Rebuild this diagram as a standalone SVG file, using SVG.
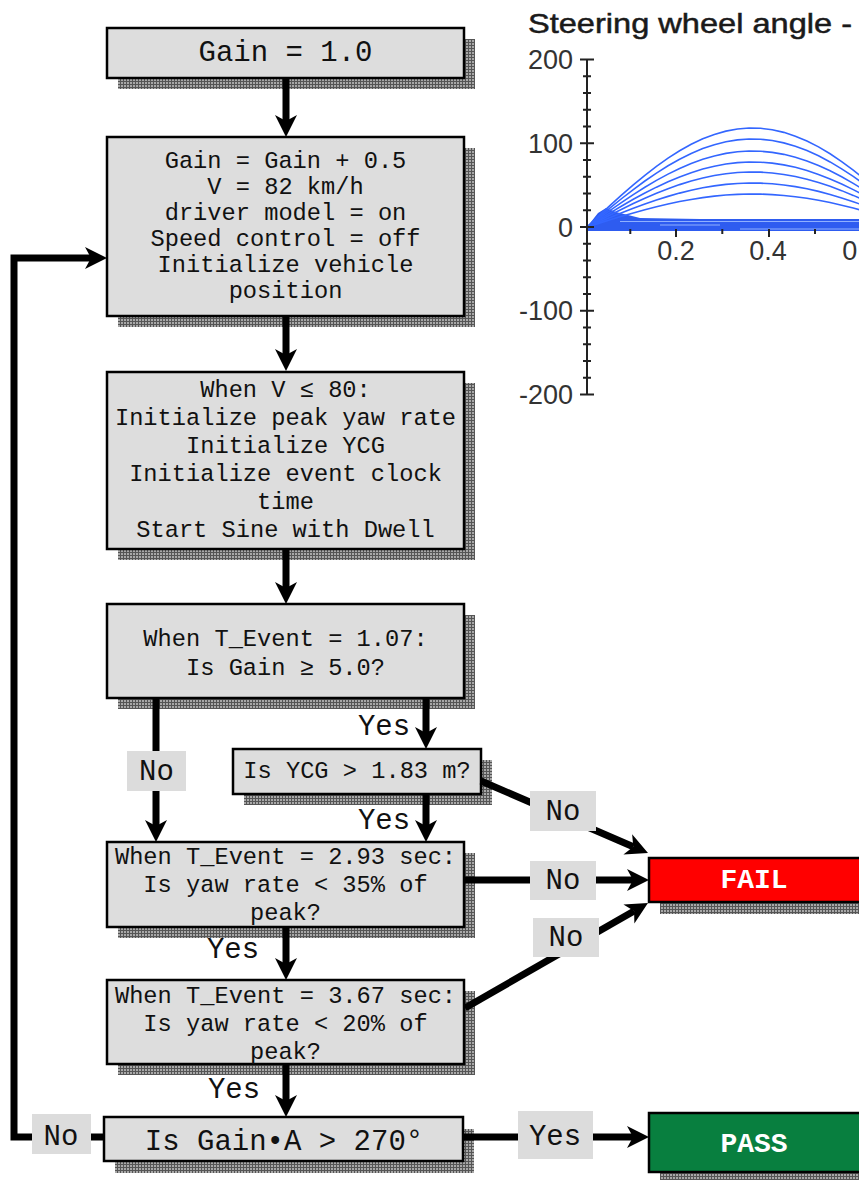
<svg xmlns="http://www.w3.org/2000/svg" width="859" height="1180" viewBox="0 0 859 1180">
<style>
.box{fill:#dddddd;stroke:#000;stroke-width:2.5}
.sh{fill:url(#chk)}
.t{font-family:"Liberation Mono","Courier New",monospace;font-size:23.7px;fill:#111;text-anchor:middle}
.tb{font-family:"Liberation Mono","Courier New",monospace;font-size:29px;fill:#111;text-anchor:middle}
.lbl{font-family:"Liberation Mono","Courier New",monospace;font-size:29px;fill:#111;text-anchor:middle}
.lbg{fill:#dcdcdc}
.res{font-family:"Liberation Mono","Courier New",monospace;font-size:28px;font-weight:bold;fill:#fff;text-anchor:middle}
.con{fill:none;stroke:#000;stroke-width:7;marker-end:url(#ah)}
.ax{font-family:"Liberation Sans",Arial,sans-serif;font-size:27px;fill:#333}
.crv{fill:none;stroke:#3366ff;stroke-width:1.6}
</style>
<defs>
<pattern id="chk" width="3" height="3" patternUnits="userSpaceOnUse">
<rect width="3" height="3" fill="#a8a8a8"/>
<rect width="3" height="1" fill="#555"/>
<rect width="1" height="3" fill="#555"/>
</pattern>
<marker id="ah" viewBox="-8 -12 26 24" refX="0" refY="0" markerWidth="26" markerHeight="24" markerUnits="userSpaceOnUse" orient="auto">
<path d="M16,0 L-6,-11 L0,0 L-6,11 Z" fill="#000"/>
</marker>
</defs>
<rect width="859" height="1180" fill="#fff"/>

<g id="chart">
<text x="528" y="33" font-family="Liberation Sans, Arial, sans-serif" font-size="28" fill="#1a1a1a" stroke="#1a1a1a" stroke-width="0.5" textLength="324" lengthAdjust="spacingAndGlyphs">Steering wheel angle -</text>
<polygon points="587,227 598,213 606,208 616,212 640,218 700,219 859,219 859,231 587,231" fill="#2e5cf0"/>
<g stroke="#8fb0ff" stroke-width="1">
<line x1="620" y1="221.5" x2="859" y2="221.5"/>
<line x1="660" y1="225" x2="720" y2="225"/>
<line x1="740" y1="229" x2="859" y2="229"/>
</g>
<g class="crv">
<path d="M587,227 L598.58,216.14 L610.15,205.41 L621.73,194.93 L633.3,184.85 L644.88,175.27 L656.45,166.32 L668.03,158.11 L679.6,150.72 L691.18,144.26 L702.75,138.79 L714.33,134.4 L725.9,131.11 L737.48,129 L749.05,128.05 L760.63,128.31 L772.2,129.75 L783.78,132.36 L795.35,136.14 L806.93,141 L818.5,146.91 L830.08,153.78 L841.65,161.53 L853.23,170.09 L864.8,179.3"/>
<path d="M587,227 L598.58,217.35 L610.15,207.81 L621.73,198.5 L633.3,189.53 L644.88,181.02 L656.45,173.06 L668.03,165.76 L679.6,159.2 L691.18,153.45 L702.75,148.59 L714.33,144.68 L725.9,141.76 L737.48,139.89 L749.05,139.04 L760.63,139.27 L772.2,140.56 L783.78,142.87 L795.35,146.23 L806.93,150.55 L818.5,155.81 L830.08,161.92 L841.65,168.81 L853.23,176.42 L864.8,184.6"/>
<path d="M587,227 L598.58,218.66 L610.15,210.42 L621.73,202.38 L633.3,194.64 L644.88,187.29 L656.45,180.42 L668.03,174.11 L679.6,168.44 L691.18,163.48 L702.75,159.28 L714.33,155.91 L725.9,153.39 L737.48,151.77 L749.05,151.04 L760.63,151.24 L772.2,152.35 L783.78,154.34 L795.35,157.25 L806.93,160.98 L818.5,165.52 L830.08,170.79 L841.65,176.74 L853.23,183.32 L864.8,190.38"/>
<path d="M587,227 L598.58,219.87 L610.15,212.82 L621.73,205.95 L633.3,199.32 L644.88,193.04 L656.45,187.16 L668.03,181.77 L679.6,176.92 L691.18,172.67 L702.75,169.08 L714.33,166.2 L725.9,164.04 L737.48,162.66 L749.05,162.03 L760.63,162.2 L772.2,163.15 L783.78,164.86 L795.35,167.34 L806.93,170.53 L818.5,174.41 L830.08,178.93 L841.65,184.02 L853.23,189.64 L864.8,195.68"/>
<path d="M587,227 L598.58,220.97 L610.15,215 L621.73,209.19 L633.3,203.58 L644.88,198.26 L656.45,193.29 L668.03,188.73 L679.6,184.62 L691.18,181.03 L702.75,177.99 L714.33,175.55 L725.9,173.73 L737.48,172.56 L749.05,172.03 L760.63,172.17 L772.2,172.97 L783.78,174.42 L795.35,176.52 L806.93,179.22 L818.5,182.5 L830.08,186.32 L841.65,190.63 L853.23,195.39 L864.8,200.5"/>
<path d="M587,227 L598.58,222.17 L610.15,217.4 L621.73,212.75 L633.3,208.26 L644.88,204.01 L656.45,200.03 L668.03,196.38 L679.6,193.1 L691.18,190.22 L702.75,187.8 L714.33,185.84 L725.9,184.38 L737.48,183.44 L749.05,183.02 L760.63,183.14 L772.2,183.78 L783.78,184.94 L795.35,186.62 L806.93,188.78 L818.5,191.4 L830.08,194.46 L841.65,197.9 L853.23,201.71 L864.8,205.8"/>
<path d="M587,227 L598.58,223.38 L610.15,219.8 L621.73,216.31 L633.3,212.95 L644.88,209.76 L656.45,206.77 L668.03,204.04 L679.6,201.57 L691.18,199.42 L702.75,197.6 L714.33,196.13 L725.9,195.04 L737.48,194.33 L749.05,194.02 L760.63,194.1 L772.2,194.58 L783.78,195.45 L795.35,196.71 L806.93,198.33 L818.5,200.3 L830.08,202.59 L841.65,205.18 L853.23,208.03 L864.8,211.1"/>
</g>
<g stroke="#222" stroke-width="2" fill="none">
<line x1="587" y1="59" x2="587" y2="395"/>
<line x1="587" y1="227" x2="859" y2="227" stroke="#2e5cf0"/>
<path d="M580,59.4H594M580,143.2H594M580,227H594M580,310.8H594M580,394.6H594"/>
<path d="M583,76.2H591M583,92.9H591M583,109.7H591M583,126.4H591M583,160H591M583,176.7H591M583,193.5H591M583,210.2H591M583,243.8H591M583,260.5H591M583,277.3H591M583,294H591M583,327.6H591M583,344.3H591M583,361.1H591M583,377.8H591"/>
<path d="M630.3,229V234M676,229V237M722.3,229V234M769,229V237M815,229V234"/>
</g>
<g class="ax">
<text x="573" y="69" text-anchor="end">200</text>
<text x="573" y="153" text-anchor="end">100</text>
<text x="573" y="237" text-anchor="end">0</text>
<text x="573" y="320" text-anchor="end">-100</text>
<text x="573" y="404" text-anchor="end">-200</text>
<text x="676" y="260" text-anchor="middle">0.2</text>
<text x="768" y="260" text-anchor="middle">0.4</text>
<text x="861" y="260" text-anchor="middle">0.6</text>
</g>
</g>

<g id="n1">
<rect class="sh" x="118" y="39" width="357" height="50"/>
<rect class="box" x="107" y="28" width="357" height="50"/>
<text class="tb" x="285.5" y="61">Gain = 1.0</text>
</g>

<g id="n2">
<rect class="sh" x="118" y="148" width="357" height="179"/>
<rect class="box" x="107" y="137" width="357" height="179"/>
<text class="t" x="285.5" y="168">Gain = Gain + 0.5</text>
<text class="t" x="285.5" y="194">V = 82 km/h</text>
<text class="t" x="285.5" y="220">driver model = on</text>
<text class="t" x="285.5" y="246">Speed control = off</text>
<text class="t" x="285.5" y="272">Initialize vehicle</text>
<text class="t" x="285.5" y="298">position</text>
</g>

<g id="n3">
<rect class="sh" x="118" y="383" width="357" height="177"/>
<rect class="box" x="107" y="372" width="357" height="177"/>
<text class="t" x="285.5" y="397">When V ≤ 80:</text>
<text class="t" x="285.5" y="425">Initialize peak yaw rate</text>
<text class="t" x="285.5" y="453">Initialize YCG</text>
<text class="t" x="285.5" y="481">Initialize event clock</text>
<text class="t" x="285.5" y="509">time</text>
<text class="t" x="285.5" y="537">Start Sine with Dwell</text>
</g>

<g id="n4">
<rect class="sh" x="118" y="615" width="357" height="94"/>
<rect class="box" x="107" y="604" width="357" height="94"/>
<text class="t" x="285.5" y="646">When T_Event = 1.07:</text>
<text class="t" x="285.5" y="675">Is Gain ≥ 5.0?</text>
</g>

<g id="n5">
<rect class="sh" x="244" y="760" width="248" height="45"/>
<rect class="box" x="233" y="749" width="248" height="45"/>
<text class="t" x="357" y="778">Is YCG &gt; 1.83 m?</text>
</g>

<g id="n6">
<rect class="sh" x="118" y="853" width="357" height="85"/>
<rect class="box" x="107" y="842" width="357" height="85"/>
<text class="t" x="285.5" y="864">When T_Event = 2.93 sec:</text>
<text class="t" x="285.5" y="892">Is yaw rate &lt; 35% of</text>
<text class="t" x="285.5" y="920">peak?</text>
</g>

<g id="n7">
<rect class="sh" x="118" y="991" width="357" height="84"/>
<rect class="box" x="107" y="980" width="357" height="84"/>
<text class="t" x="285.5" y="1003">When T_Event = 3.67 sec:</text>
<text class="t" x="285.5" y="1031">Is yaw rate &lt; 20% of</text>
<text class="t" x="285.5" y="1059">peak?</text>
</g>

<g id="n8">
<rect class="sh" x="115" y="1129" width="359" height="44"/>
<rect class="box" x="104" y="1117" width="359" height="44"/>
<text class="tb" x="284" y="1150">Is Gain•A &gt; 270°</text>
</g>

<g id="fail">
<rect class="sh" x="660" y="869" width="230" height="45"/>
<rect x="649" y="858" width="230" height="44" fill="#ff0000" stroke="#000" stroke-width="2.5"/>
<text class="res" x="754" y="888">FAIL</text>
</g>

<g id="pass">
<rect class="sh" x="660" y="1124" width="230" height="60"/>
<rect x="649" y="1113" width="230" height="59" fill="#087f3f" stroke="#000" stroke-width="2.5"/>
<text class="res" x="754" y="1152">PASS</text>
</g>

<g id="connectors">
<path class="con" d="M286,78 V121"/>
<path class="con" d="M286,316 V355"/>
<path class="con" d="M286,549 V588"/>
<path class="con" d="M156,698 V826"/>
<path class="con" d="M426,698 V733"/>
<path class="con" d="M426,794 V826"/>
<path class="con" d="M481,781 L633.3,846.7"/>
<path class="con" d="M464,880 H633"/>
<path class="con" d="M465,1008 L634.1,911"/>
<path class="con" d="M286,927 V964"/>
<path class="con" d="M286,1064 V1101"/>
<path class="con" d="M463,1137 H633"/>
<path class="con" d="M104,1137 H14 V258 H91"/>

<rect class="lbg" x="127" y="751" width="59" height="40"/>
<text class="lbl" x="156.5" y="780">No</text>
<text class="lbl" x="384" y="735">Yes</text>
<text class="lbl" x="384" y="829">Yes</text>
<rect class="lbg" x="530" y="791" width="66" height="40"/>
<text class="lbl" x="563" y="820">No</text>
<rect class="lbg" x="530" y="861" width="66" height="39"/>
<text class="lbl" x="563" y="889">No</text>
<rect class="lbg" x="533" y="918" width="66" height="39"/>
<text class="lbl" x="566" y="946">No</text>
<text class="lbl" x="233" y="958">Yes</text>
<text class="lbl" x="234" y="1098">Yes</text>
<rect class="lbg" x="518" y="1111" width="75" height="48"/>
<text class="lbl" x="555" y="1145">Yes</text>
<rect class="lbg" x="32" y="1114" width="59" height="40"/>
<text class="lbl" x="61" y="1145">No</text>
</g>
</svg>
